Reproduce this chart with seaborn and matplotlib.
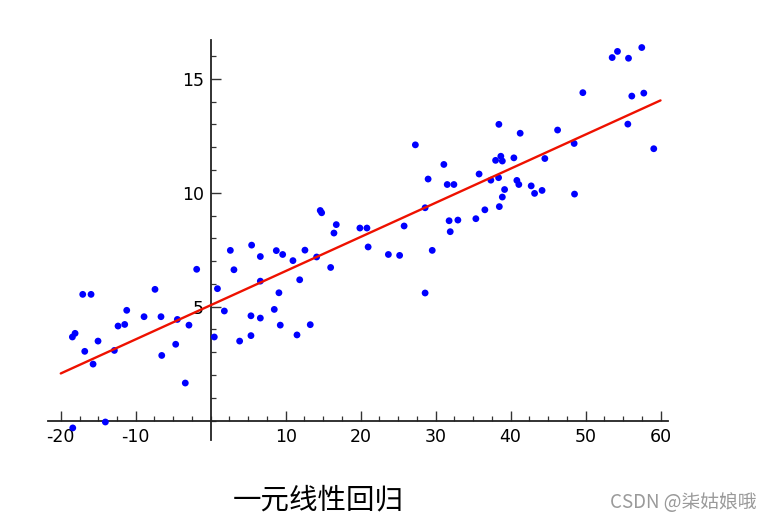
import matplotlib
matplotlib.use("Agg")
import matplotlib.pyplot as plt
from matplotlib.ticker import MultipleLocator, FixedLocator
import seaborn as sns
import pandas as pd

# scatter points
x_vals = [-18.4, -18.45, -18.09, -17.07, -16.8, -15.96, -15.69, -15.03, -14.05, -12.85,
          -12.36, -11.47, -11.2, -8.89, -7.43, -6.63, -6.53, -4.67, -4.45, -3.39,
          -2.9, -1.87, 0.48, 0.9, 1.82, 2.62, 3.1, 3.86, 5.46, 5.37,
          5.37, 6.62, 6.62, 6.62, 8.48, 8.75, 9.1, 9.28, 9.6, 10.97,
          11.51, 11.87, 12.57, 13.28, 14.13, 14.61, 14.8, 16.0, 16.44, 16.75,
          19.9, 20.84, 21.0, 23.7, 25.2, 25.8, 27.3, 28.6, 29.0, 28.6,
          29.55, 31.1, 31.55, 32.44, 31.8, 32.97, 31.95, 35.37, 36.57, 35.8,
          37.37, 38.0, 38.44, 38.7, 38.9, 38.4, 39.2, 38.9, 38.5, 40.44,
          41.28, 40.84, 41.1, 42.75, 43.2, 44.2, 44.57, 46.27, 48.48, 48.53,
          49.64, 53.55, 54.26, 55.73, 57.5, 56.17, 57.77, 55.64, 59.1]
y_vals = [-0.32, 3.67, 3.83, 5.54, 3.04, 5.54, 2.48, 3.49, -0.06, 3.08,
          4.15, 4.22, 4.84, 4.56, 5.76, 4.56, 2.86, 3.35, 4.44, 1.65,
          4.19, 6.64, 3.67, 5.79, 4.81, 7.47, 6.62, 3.49, 7.7, 4.6,
          3.73, 7.2, 6.12, 4.5, 4.88, 7.46, 5.61, 4.19, 7.29, 7.02,
          3.76, 6.18, 7.48, 4.21, 7.18, 9.22, 9.12, 6.72, 8.23, 8.6,
          8.45, 8.45, 7.62, 7.29, 7.25, 8.54, 12.1, 9.34, 10.6, 5.6,
          7.47, 11.24, 10.36, 10.36, 8.77, 8.8, 8.29, 8.86, 9.25, 10.82,
          10.55, 11.42, 13.0, 11.6, 11.39, 10.66, 10.14, 9.81, 9.39, 11.53,
          12.61, 10.54, 10.36, 10.3, 9.97, 10.1, 11.5, 12.75, 12.16, 9.94,
          14.39, 15.93, 16.2, 15.9, 16.37, 14.24, 14.37, 13.01, 11.93]

# fitted line end points
line_x = [-20, 60]
line_y = [2.07, 14.05]

x_ticks = [-20, -10, 10, 20, 30, 40, 50, 60]
y_ticks = [5, 10, 15]
title_text = "一元线性回归"
mark_text = "CSDN @柒姑娘哦"

sns.set_style("white")
plt.rcParams['font.family'] = ['DejaVu Sans', 'Noto Sans CJK SC']

fig = plt.figure(figsize=(7.72, 5.23), dpi=100)
ax = fig.add_axes([0.0622, 0.1587, 0.8031, 0.7648])

pts = pd.DataFrame({'x': x_vals, 'y': y_vals})
sns.scatterplot(data=pts, x='x', y='y', ax=ax, color='#0000ff', s=24,
                edgecolor='none', zorder=3)
sns.lineplot(x=line_x, y=line_y, ax=ax, color='#ee1100', linewidth=1.7, zorder=4)

ax.set_xlim(-21.7, 61.0)
ax.set_ylim(-0.85, 16.7)
ax.set_xlabel('')
ax.set_ylabel('')

for side in ['top', 'right']:
    ax.spines[side].set_visible(False)
for side in ['left', 'bottom']:
    ax.spines[side].set_position(('data', 0))
    ax.spines[side].set_color('#222222')
    ax.spines[side].set_linewidth(1.3)

ax.xaxis.set_major_locator(FixedLocator(x_ticks))
ax.yaxis.set_major_locator(FixedLocator(y_ticks))
ax.xaxis.set_minor_locator(MultipleLocator(2.5))
ax.yaxis.set_minor_locator(MultipleLocator(1))
ax.tick_params(which='major', direction='in', length=7, width=1.0,
               color='#333333', labelsize=12.5, labelcolor='black', pad=5)
ax.tick_params(which='minor', direction='in', length=3.5, width=0.9,
               color='#333333')
ax.tick_params(axis='x', which='both', bottom=True)
ax.tick_params(axis='y', which='both', left=True)
ax.set_xticklabels([str(v) for v in x_ticks])

fig.text(318 / 772, 1 - 500 / 523, title_text, ha='center', va='center',
         fontsize=20.5, family=['Noto Sans CJK SC'], weight='medium', color='black')
fig.text(757 / 772, 1 - 503 / 523, mark_text, ha='right', va='center',
         fontsize=13.5, family=['Noto Sans CJK SC'], color='#9a9a9a')

fig.savefig('out.png', dpi=100)
